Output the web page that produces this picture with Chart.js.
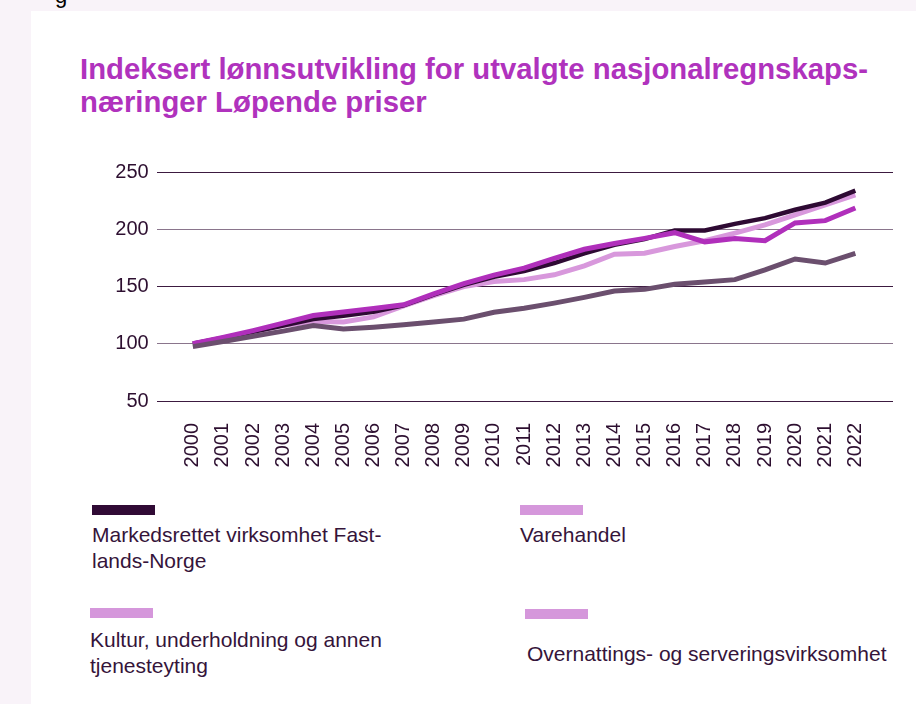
<!DOCTYPE html>
<html lang="nb">
<head>
<meta charset="utf-8">
<script src="https://cdn.jsdelivr.net/npm/chart.js@4"></script>
<style>
  body { margin: 0; width: 916px; height: 704px; background: #f9f3f9; overflow: hidden; font-family: "Liberation Sans", Arial, sans-serif; position: relative; }
  #top { position: absolute; left: 55px; top: -17px; font-size: 22px; color: #000; }
  #card { position: absolute; left: 31px; top: 11px; right: 0; bottom: 0; background: #fff; }
  #title { position: absolute; left: 80px; top: 52px; font-size: 29.3px; line-height: 33px; font-weight: bold; color: #b032bd; white-space: nowrap; }
  #chartBox { position: absolute; left: 80px; top: 150px; width: 813px; height: 331px; }
  .leg { position: absolute; color: #35143a; font-size: 21px; line-height: 26px; white-space: nowrap; }
  .sw { position: absolute; width: 63px; height: 10px; }
</style>
</head>
<body>
<div id="top">g</div>
<div id="card"></div>
<div id="title">Indeksert lønnsutvikling for utvalgte nasjonalregnskaps-<br>næringer Løpende priser</div>
<div id="chartBox"><canvas id="myChart" width="813" height="331"></canvas></div>
<div id="legend"></div>
<script>
var years = [2000, 2001, 2002, 2003, 2004, 2005, 2006, 2007, 2008, 2009, 2010, 2011,
  2012, 2013, 2014, 2015, 2016, 2017, 2018, 2019, 2020, 2021, 2022];
var yTicks = [50, 100, 150, 200, 250];

var names = [
  "Markedsrettet virksomhet Fastlands-Norge",
  "Varehandel",
  "Kultur, underholdning og annen tjenesteyting",
  "Overnattings- og serveringsvirksomhet",
];
var legendLines = [
  ["Markedsrettet virksomhet Fast-", "lands-Norge"],
  ["Varehandel"],
  ["Kultur, underholdning og annen", "tjenesteyting"],
  ["Overnattings- og serveringsvirksomhet"],
];

var markedsrettet = [100, 105, 110.5, 116, 121.5, 124.5, 128, 133.5, 143, 151.5, 158.5, 163.5,
  170.5, 179, 186.4, 191.4, 198.9, 198.9, 204.7, 209.7, 217, 223.3, 233.8];
var varehandel = [100, 105, 110.5, 116, 119.5, 119, 123.5, 133, 142, 150, 154.4, 156,
  160.2, 168, 178.2, 179, 184.9, 190, 196.6, 203.8, 212.6, 221.3, 230];
var kultur = [100, 105.5, 111.5, 118, 124.7, 127.8, 130.8, 134, 143.6, 152.5, 160, 166,
  174.5, 182.5, 187.5, 192, 197, 189, 192, 190, 205.5, 207.5, 218.5];
var overnatting = [97.5, 102, 106.5, 111, 116, 112.8, 114.5, 116.5, 119, 121.5, 127.5, 131,
  135.5, 140.5, 146, 147.5, 152, 154, 156, 164.5, 174, 170.5, 179];

var lineColors = ["#2e0a33", "#d898dc", "#b02fbb", "#6b4f6e"];
var legendColors = ["#300a35", "#d597db", "#d597db", "#d597db"];
var seriesValues = [markedsrettet, varehandel, kultur, overnatting];
var drawOrder = [2, 3, 1, 0]; // lower = drawn on top
var lineWidths = [4.5, 5, 5, 5];

var tickFont = { family: "'Liberation Sans', Arial, sans-serif", size: 20 };
var textColor = "#2d0f30";

const ctx = document.getElementById("myChart").getContext("2d");

const config = {
  type: "line",
  data: {
    datasets: seriesValues.map((vals, i) => ({
      label: names[i],
      data: vals.map((v, j) => ({ x: years[j], y: v })),
      borderColor: lineColors[i],
      backgroundColor: lineColors[i],
      borderWidth: lineWidths[i],
      order: drawOrder[i],
      pointRadius: 0,
      tension: 0,
    })),
  },
  options: {
    responsive: false,
    animation: false,
    layout: { padding: { top: 22, left: 0, right: 0, bottom: 0 } },
    plugins: { legend: { display: false }, tooltip: { enabled: false } },
    scales: {
      x: {
        type: "linear",
        min: 1998.8,
        max: 2023.25,
        grid: { display: false, drawTicks: false },
        border: { display: false },
        afterBuildTicks: (scale) => {
          scale.ticks = years.map((y) => ({ value: y }));
        },
        afterFit: (scale) => {
          scale.height = 80;
          // labels never reach the edges, so no extra side padding
          scale.paddingLeft = 0;
          scale.paddingRight = 0;
        },
        ticks: {
          autoSkip: false,
          minRotation: 90,
          maxRotation: 90,
          padding: 22,
          color: textColor,
          font: tickFont,
          callback: (v) => String(v),
        },
      },
      y: {
        min: 50,
        max: 250,
        afterBuildTicks: (scale) => {
          scale.ticks = yTicks.map((v) => ({ value: v }));
        },
        afterFit: (scale) => {
          scale.width = 76.7;
        },
        grid: {
          drawTicks: false,
          lineWidth: 1,
          color: (c) => (c.index % 2 === 0 ? "#3c1a40" : "#8a758c"),
        },
        border: { display: false },
        ticks: { padding: 8, color: textColor, font: tickFont },
      },
    },
  },
};
new Chart(ctx, config);

// legend, laid out in two columns like the original
var legPos = [
  { sx: 92, sy: 505, tx: 92, ty: 522 },
  { sx: 520, sy: 505, tx: 520, ty: 522 },
  { sx: 90, sy: 608, tx: 90, ty: 627 },
  { sx: 525, sy: 609, tx: 527, ty: 641 },
];
var legend = document.getElementById("legend");
names.forEach((n, i) => {
  var sw = document.createElement("div");
  sw.className = "sw";
  sw.style.left = legPos[i].sx + "px";
  sw.style.top = legPos[i].sy + "px";
  sw.style.background = legendColors[i];
  legend.appendChild(sw);
  var t = document.createElement("div");
  t.className = "leg";
  t.style.left = legPos[i].tx + "px";
  t.style.top = legPos[i].ty + "px";
  t.innerHTML = legendLines[i].join("<br>");
  legend.appendChild(t);
});
</script>
</body>
</html>
